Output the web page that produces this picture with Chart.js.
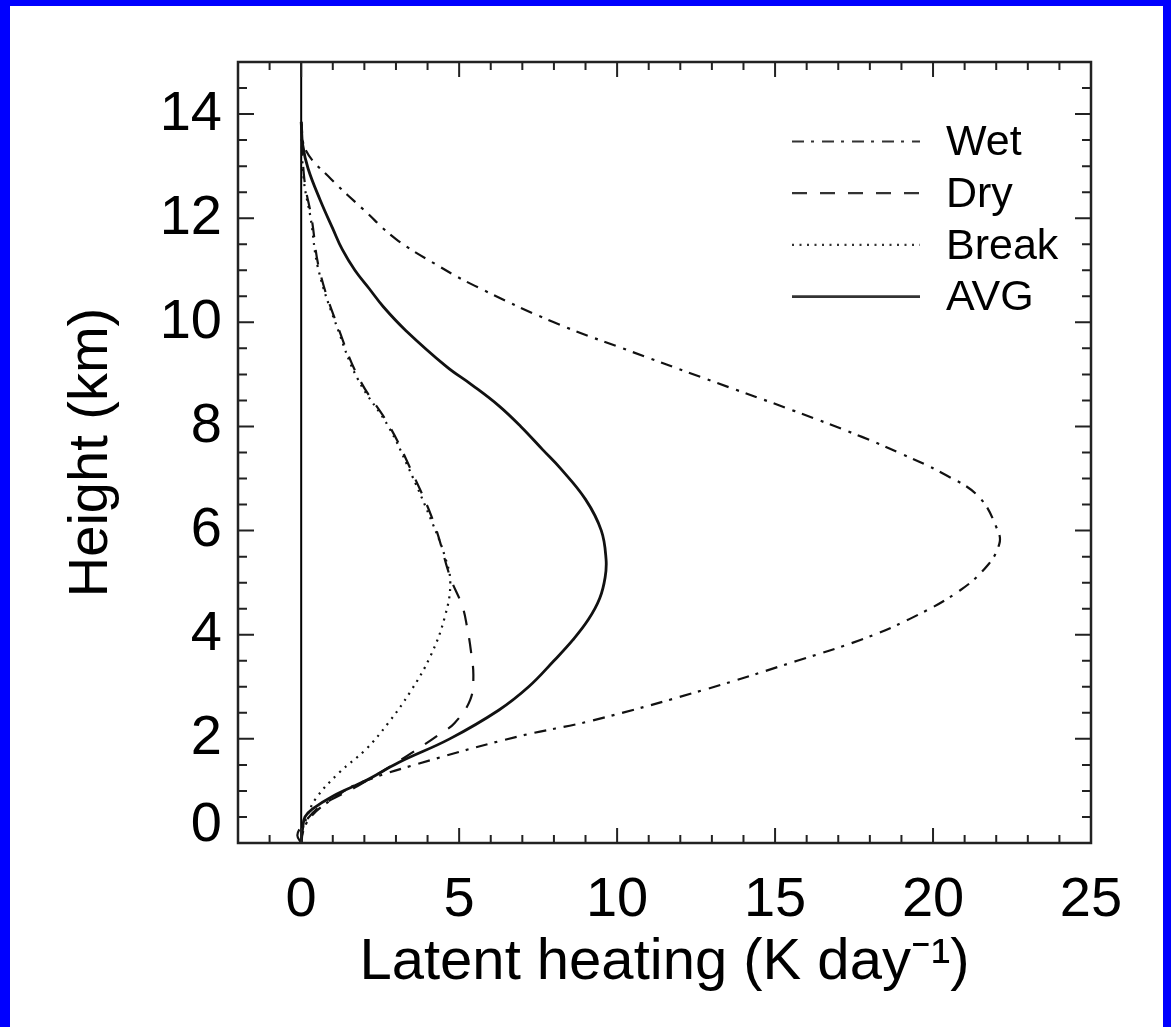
<!DOCTYPE html>
<html>
<head>
<meta charset="utf-8">
<script src="https://cdn.jsdelivr.net/npm/chart.js"></script>
<style>
  html, body { margin: 0; padding: 0; background: #0000ff; overflow: hidden; }
  #wrap { position: fixed; left: 10px; top: 6px; width: 1153px; height: 1200px; background: #fff; }
  canvas { display: block; }
</style>
</head>
<body>
<div id="wrap"><canvas id="chart" width="1153" height="1021"></canvas></div>
<script>
// axis ticks
const xTicks = [0, 5, 10, 15, 20, 25]
const yTicks = [0, 2, 4, 6, 8, 10, 12, 14]

// profiles: height (km) and latent heating (K/day)
const wetHeight = [0, 0.2, 0.5, 0.85, 1.15, 1.6, 2.05, 2.35, 2.95, 3.5, 3.9, 4.3, 4.85, 5.35, 5.75, 6.0, 6.65, 7.1, 7.5, 7.8, 8.3, 8.85, 9.45, 10.0, 10.7, 11.1, 11.6, 12.15, 12.75, 13.3, 13.85]
const wetHeating = [0, 0.05, 0.3, 1.0, 1.85, 4.15, 6.9, 9.2, 12.8, 15.7, 17.7, 19.25, 20.85, 21.75, 22.1, 22.05, 21.45, 20.3, 18.9, 17.75, 15.6, 13.1, 10.4, 8.0, 5.5, 4.3, 3.0, 2.0, 0.95, 0.15, 0]

const dryHeight = [0, 0.15, 0.35, 0.7, 1.1, 1.5, 1.85, 2.1, 2.3, 2.75, 3.2, 3.7, 4.15, 4.55, 5.1, 6.15, 7.2, 8.0, 8.9, 9.85, 11.0, 12.0, 12.75, 13.85]
const dryHeating = [0, -0.12, 0.05, 0.6, 1.8, 2.9, 3.8, 4.4, 4.85, 5.35, 5.45, 5.37, 5.25, 5.1, 4.72, 4.2, 3.45, 2.8, 1.85, 1.2, 0.58, 0.33, 0.1, 0]

const breakHeight = [0, 0.2, 0.45, 0.85, 1.35, 1.8, 2.3, 2.9, 3.6, 4.35, 5.0, 5.5, 6.15, 7.2, 8.0, 8.9, 9.85, 11.0, 12.0, 12.75, 13.85]
const breakHeating = [0, 0.02, 0.15, 0.46, 1.2, 2.05, 2.75, 3.45, 4.1, 4.55, 4.72, 4.55, 4.15, 3.4, 2.76, 1.8, 1.17, 0.55, 0.3, 0.08, 0]

const avgHeight = [0, 0.3, 0.5, 0.65, 0.9, 1.2, 1.55, 2.0, 2.55, 3.0, 3.5, 3.9, 4.3, 4.7, 5.1, 5.45, 6.0, 6.6, 7.2, 7.55, 8.0, 8.4, 8.8, 9.15, 9.85, 10.3, 10.65, 11.0, 11.4, 11.8, 12.35, 12.95, 13.4, 13.85]
const avgHeating = [0, 0.05, 0.12, 0.35, 1.0, 2.05, 3.1, 4.7, 6.25, 7.2, 8.0, 8.6, 9.1, 9.45, 9.62, 9.65, 9.5, 9.0, 8.2, 7.65, 6.95, 6.25, 5.4, 4.6, 3.3, 2.6, 2.15, 1.7, 1.3, 1.0, 0.6, 0.22, 0.05, 0]

const toPoints = (heights, heating) => heights.map((h, i) => ({ x: heating[i], y: h }))

const FONT = '"Liberation Sans", Arial, Helvetica, sans-serif'
Chart.defaults.font.family = FONT
Chart.defaults.color = '#000'

const line = (label, heights, heating, dash, width) => ({
    label: label,
    data: toPoints(heights, heating),
    showLine: true,
    borderColor: '#111',
    borderWidth: width,
    borderDash: dash,
    pointRadius: 0,
    tension: 0.4,
    fill: false
})

// box with inward major/minor ticks on all four sides, IDL style
const frame = {
    id: 'frame',
    afterDatasetsDraw(chart) {
        const { ctx, chartArea: a, scales: { x, y } } = chart
        ctx.save()
        ctx.strokeStyle = '#222'
        ctx.lineWidth = 2.5
        ctx.strokeRect(a.left, a.top, a.right - a.left, a.bottom - a.top)
        ctx.lineWidth = 2
        ctx.beginPath()
        for (let v = x.min; v <= x.max; v++) {
            const px = x.getPixelForValue(v)
            const len = v % 5 === 0 ? 15 : 8
            ctx.moveTo(px, a.bottom)
            ctx.lineTo(px, a.bottom - len)
            ctx.moveTo(px, a.top)
            ctx.lineTo(px, a.top + len)
        }
        for (let v = y.min; v <= y.max; v += 0.5) {
            const py = y.getPixelForValue(v)
            const len = v % 2 === 0 ? 16 : 9
            ctx.moveTo(a.left, py)
            ctx.lineTo(a.left + len, py)
            ctx.moveTo(a.right, py)
            ctx.lineTo(a.right - len, py)
        }
        ctx.stroke()

        // the y "0" label sits a little above the corner, like the original
        ctx.font = '56px ' + FONT
        ctx.fillStyle = '#000'
        ctx.textAlign = 'right'
        ctx.textBaseline = 'middle'
        ctx.fillText('0', a.left - 16, y.getPixelForValue(0) - 17)
        ctx.restore()
    }
}

// legend inside the top right corner
const legendBox = {
    id: 'legendBox',
    afterDraw(chart) {
        const { ctx, chartArea: a } = chart
        ctx.save()
        ctx.font = '43px ' + FONT
        ctx.textBaseline = 'middle'
        ctx.fillStyle = '#000'
        let row = 0
        chart.data.datasets.forEach((ds) => {
            if (!ds.label) return
            const yy = a.top + 79.5 + row * 51.7
            ctx.strokeStyle = '#333'
            ctx.lineWidth = ds.borderWidth
            ctx.setLineDash(ds.borderDash)
            ctx.beginPath()
            ctx.moveTo(a.right - 299, yy)
            ctx.lineTo(a.right - 171, yy)
            ctx.stroke()
            ctx.fillText(ds.label, a.right - 145, yy + 2)
            row++
        })
        ctx.restore()
    }
}

new Chart(document.getElementById('chart'), {
    type: 'scatter',
    data: {
        datasets: [
            line('Wet', wetHeight, wetHeating, [12, 7, 3, 8], 2.2),
            line('Dry', dryHeight, dryHeating, [15, 13], 2.2),
            line('Break', breakHeight, breakHeating, [2, 5.5], 2.2),
            line('AVG', avgHeight, avgHeating, [], 2.8),
            { label: '', data: [{ x: 0, y: 0 }, { x: 0, y: 15 }], showLine: true, borderColor: '#000', borderWidth: 2, pointRadius: 0 }
        ]
    },
    options: {
        responsive: false,
        animation: false,
        events: [],
        layout: { padding: { top: 56, right: 72, left: 0, bottom: 0 } },
        plugins: { legend: { display: false }, tooltip: { enabled: false } },
        scales: {
            x: {
                type: 'linear',
                min: -2,
                max: 25,
                afterBuildTicks: (scale) => { scale.ticks = xTicks.map(v => ({ value: v })) },
                afterFit: (scale) => { scale.height = 184 },
                grid: { display: false, drawTicks: false },
                border: { display: false },
                ticks: { autoSkip: false, maxRotation: 0, padding: 24, font: { size: 56 } },
                title: { display: true, text: 'Latent heating (K day\u207B\u00B9)', font: { size: 58 }, padding: { top: 0, bottom: 29 } }
            },
            y: {
                type: 'linear',
                min: 0,
                max: 15,
                afterBuildTicks: (scale) => { scale.ticks = yTicks.map(v => ({ value: v })) },
                afterFit: (scale) => { scale.width = 228 },
                grid: { display: false, drawTicks: false },
                border: { display: false },
                ticks: {
                    autoSkip: false,
                    padding: 16,
                    font: { size: 56 },
                    color: (c) => c.tick && c.tick.value === 0 ? 'rgba(0,0,0,0)' : '#000'
                },
                title: { display: true, text: 'Height (km)', font: { size: 56 }, padding: { top: 48, bottom: 0 } }
            }
        }
    },
    plugins: [frame, legendBox]
})
</script>
</body>
</html>
